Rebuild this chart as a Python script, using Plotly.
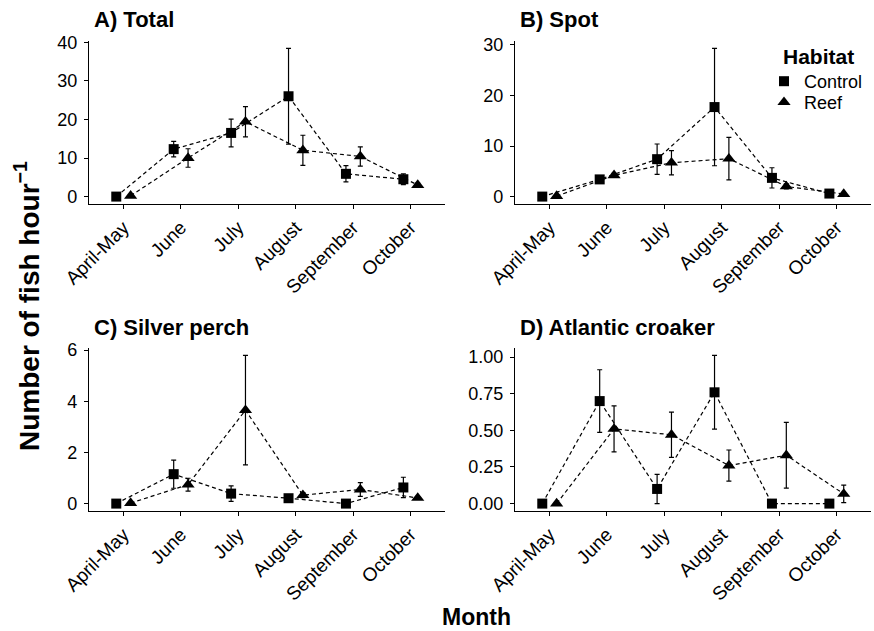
import plotly.graph_objects as go

months = ["April-May", "June", "July", "August", "September", "October"]

panel_titles = ["A) Total", "B) Spot", "C) Silver perch", "D) Atlantic croaker"]

total_control = [0.0, 12.3, 16.5, 26.0, 5.9, 4.5]
total_control_se = [0.0, 2.0, 3.6, 12.4, 2.1, 1.4]
total_reef = [0.2, 10.0, 19.4, 12.0, 10.4, 3.0]
total_reef_se = [0.1, 2.4, 3.9, 3.9, 2.5, 0.5]

spot_control = [0.0, 3.4, 7.4, 17.7, 3.7, 0.6]
spot_control_se = [0.0, 0.5, 3.0, 11.6, 2.0, 0.3]
spot_reef = [0.1, 4.2, 6.7, 7.5, 2.0, 0.5]
spot_reef_se = [0.05, 0.4, 2.4, 4.2, 0.5, 0.2]

perch_control = [0.0, 1.15, 0.39, 0.21, 0.0, 0.63]
perch_control_se = [0.0, 0.55, 0.3, 0.05, 0.0, 0.4]
perch_reef = [0.02, 0.74, 3.65, 0.33, 0.55, 0.22]
perch_reef_se = [0.02, 0.25, 2.14, 0.1, 0.27, 0.05]

croaker_control = [0.0, 0.70, 0.10, 0.76, 0.0, 0.0]
croaker_control_se = [0.0, 0.214, 0.1, 0.252, 0.0, 0.0]
croaker_reef = [0.0, 0.51, 0.47, 0.26, 0.33, 0.066]
croaker_reef_se = [0.0, 0.157, 0.155, 0.106, 0.224, 0.06]

y_ticks = [
    [0, 10, 20, 30, 40],
    [0, 10, 20, 30],
    [0, 2, 4, 6],
    [0, 0.25, 0.5, 0.75, 1.0],
]
y_tickformats = ["d", "d", "d", ".2f"]

panels = [
    (total_control, total_control_se, total_reef, total_reef_se),
    (spot_control, spot_control_se, spot_reef, spot_reef_se),
    (perch_control, perch_control_se, perch_reef, perch_reef_se),
    (croaker_control, croaker_control_se, croaker_reef, croaker_reef_se),
]

W, H = 874, 631
FONT = "Liberation Sans, Arial, Helvetica, sans-serif"

# panel pixel boxes (left, right, top, bottom)
boxes = [
    (89, 445, 41, 204),
    (515, 871, 41, 204),
    (89, 445, 348, 511),
    (515, 871, 348, 511),
]

dodge = 0.125
fig = go.Figure()
layout = {}
annotations = []

for i, (ctrl, ctrl_se, reef, reef_se) in enumerate(panels):
    n = "" if i == 0 else str(i + 1)
    xa, ya = "x" + n, "y" + n
    xs = list(range(len(months)))
    x_c = [x - dodge for x in xs]
    x_r = [x + dodge for x in xs]
    for xv, yv, se, sym, size, name, lg in [
        (x_c, ctrl, ctrl_se, "square", 10, "Control", "legend"),
        (x_r, reef, reef_se, "triangle-up", 11.5, "Reef", "legend2"),
    ]:
        fig.add_trace(go.Scatter(
            x=xv, y=yv, mode="lines", xaxis=xa, yaxis=ya,
            line=dict(color="black", width=1.2, dash="4px,3px"),
            showlegend=False, hoverinfo="skip"))
        fig.add_trace(go.Scatter(
            x=xv, y=yv, mode="markers", xaxis=xa, yaxis=ya, name=name,
            marker=dict(symbol=sym, size=size, color="black", line=dict(width=0)),
            error_y=dict(type="data", array=se, visible=True, color="black",
                         thickness=1.2, width=2.5),
            showlegend=(i == 0), legend=lg))

    lows = [v - s for v, s in zip(ctrl + reef, ctrl_se + reef_se)]
    highs = [v + s for v, s in zip(ctrl + reef, ctrl_se + reef_se)]
    lo, hi = min(lows), max(highs)
    r = hi - lo
    yrange = [lo - 0.05 * r, hi + 0.05 * r]

    l, rr, t, b = boxes[i]
    axis_common = dict(showline=True, linecolor="black", linewidth=1.2,
                       ticks="outside", ticklen=4, tickwidth=1.2, tickcolor="black",
                       showgrid=False, zeroline=False, mirror=False, automargin=False)
    layout["xaxis" + n] = dict(
        domain=[l / W, rr / W], anchor=ya, range=[-0.6, 5.6],
        tickvals=xs, ticktext=months, tickangle=-45,
        tickfont=dict(family=FONT, size=19, color="black"), **axis_common)
    layout["yaxis" + n] = dict(
        domain=[1 - b / H, 1 - t / H], anchor=xa, range=yrange,
        tickvals=y_ticks[i], tickformat=y_tickformats[i],
        tickfont=dict(family=FONT, size=18, color="black"),
        ticklabelstandoff=3, **axis_common)
    annotations.append(dict(
        text="<b>" + panel_titles[i] + "</b>", xref="paper", yref="paper",
        x=(l + 3) / W, y=1 - (t - 21) / H, xanchor="left", yanchor="middle",
        showarrow=False, font=dict(family=FONT, size=22, color="black")))

annotations.append(dict(
    text="<b>Number of fish hour<sup>−1</sup></b>", xref="paper", yref="paper",
    x=27 / W, y=1 - 306 / H, xanchor="center", yanchor="middle", textangle=-90,
    showarrow=False, font=dict(family=FONT, size=28, color="black")))
annotations.append(dict(
    text="<b>Month</b>", xref="paper", yref="paper",
    x=477 / W, y=1 - 617 / H, xanchor="center", yanchor="middle",
    showarrow=False, font=dict(family=FONT, size=23, color="black")))
annotations.append(dict(
    text="<b>Habitat</b>", xref="paper", yref="paper",
    x=781 / W, y=1 - 57 / H, xanchor="left", yanchor="middle",
    showarrow=False, font=dict(family=FONT, size=21, color="black")))

legend_common = dict(xanchor="left", yanchor="top",
                     font=dict(family=FONT, size=18, color="black"),
                     bgcolor="rgba(0,0,0,0)", itemwidth=30)

fig.update_layout(
    width=W, height=H, margin=dict(l=0, r=0, t=0, b=0, autoexpand=False),
    paper_bgcolor="white", plot_bgcolor="white",
    font=dict(family=FONT, color="black"),
    annotations=annotations,
    legend=dict(x=764 / W, y=1 - 63 / H, **legend_common),
    legend2=dict(x=764 / W, y=1 - 84 / H, **legend_common),
    **layout)

fig.write_html("out.html", config={"displayModeBar": False},
               post_script="document.body.style.margin='0px';document.body.style.padding='0px';")
